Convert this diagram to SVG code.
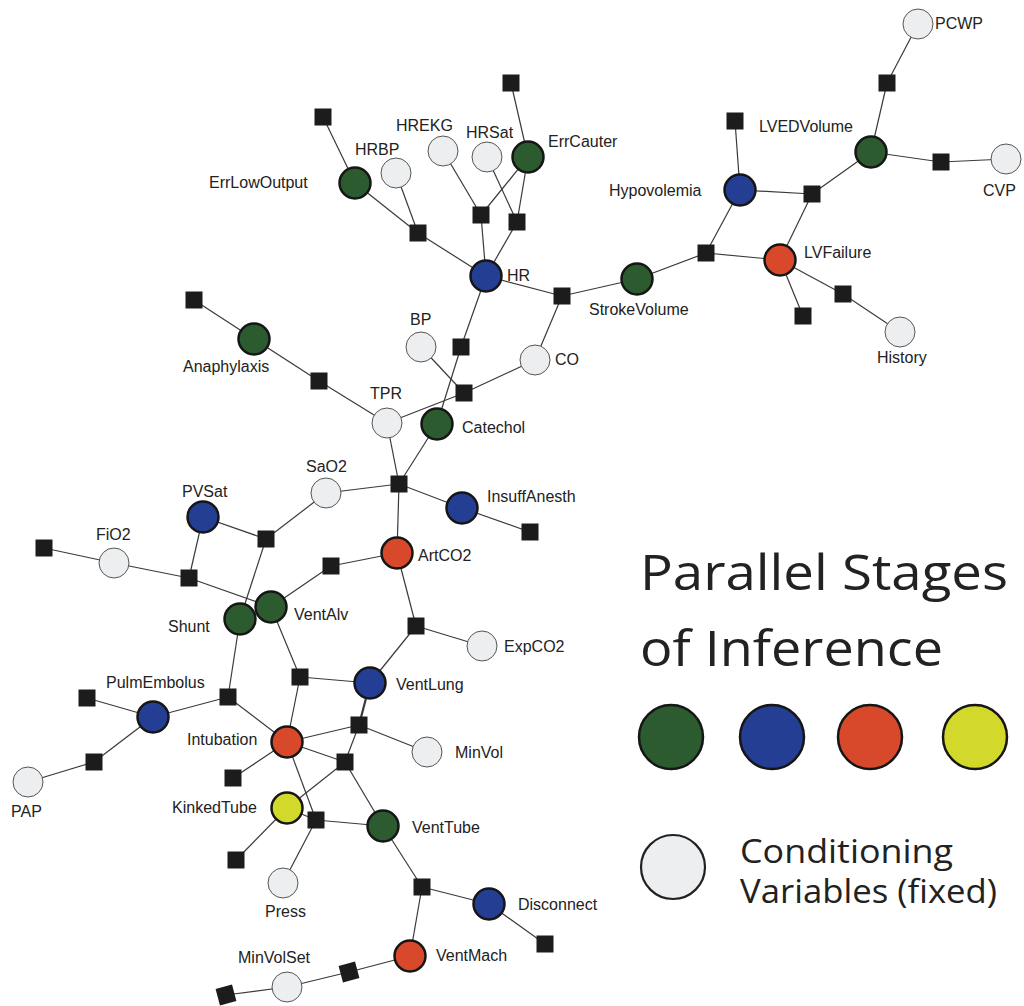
<svg xmlns="http://www.w3.org/2000/svg" width="1024" height="1006" viewBox="0 0 1024 1006">
<style>
.e{stroke:#3a3a3a;stroke-width:1.2;fill:none}
.f{fill:#1c1c1c}
.g{fill:#2b5b2f;stroke:#161616;stroke-width:2.5}
.b{fill:#243e93;stroke:#161616;stroke-width:2.5}
.r{fill:#d8482a;stroke:#161616;stroke-width:2.5}
.y{fill:#d3d92a;stroke:#161616;stroke-width:2.5}
.w{fill:#eceeef;stroke:#555;stroke-width:1}
.t{font-family:"Liberation Sans",Arial,sans-serif;font-size:16px;fill:#222}
.L{font-family:"Open Sans","Noto Sans",sans-serif;fill:#222}
</style>
<rect width="1024" height="1006" fill="#fff"/>
<g id="connectors" class="e">
<line x1="323" y1="117" x2="355" y2="183"/>
<line x1="418" y1="233" x2="355" y2="183"/>
<line x1="418" y1="233" x2="396" y2="173"/>
<line x1="418" y1="233" x2="486" y2="276"/>
<line x1="481" y1="215" x2="443" y2="151"/>
<line x1="481" y1="215" x2="528" y2="157"/>
<line x1="481" y1="215" x2="486" y2="276"/>
<line x1="517" y1="222" x2="487" y2="157"/>
<line x1="517" y1="222" x2="528" y2="157"/>
<line x1="517" y1="222" x2="486" y2="276"/>
<line x1="511" y1="83" x2="528" y2="157"/>
<line x1="562" y1="296" x2="486" y2="276"/>
<line x1="562" y1="296" x2="637" y2="279"/>
<line x1="562" y1="296" x2="535" y2="360"/>
<line x1="461" y1="347" x2="486" y2="276"/>
<line x1="461" y1="347" x2="437" y2="424"/>
<line x1="464" y1="393" x2="421" y2="347"/>
<line x1="464" y1="393" x2="535" y2="360"/>
<line x1="464" y1="393" x2="387" y2="423"/>
<line x1="194" y1="300" x2="254" y2="339"/>
<line x1="319" y1="381" x2="254" y2="339"/>
<line x1="319" y1="381" x2="387" y2="423"/>
<line x1="706" y1="253" x2="637" y2="279"/>
<line x1="706" y1="253" x2="740" y2="190"/>
<line x1="706" y1="253" x2="780" y2="260"/>
<line x1="735" y1="121" x2="740" y2="190"/>
<line x1="812" y1="194" x2="740" y2="190"/>
<line x1="812" y1="194" x2="780" y2="260"/>
<line x1="812" y1="194" x2="871" y2="152"/>
<line x1="887" y1="83" x2="871" y2="152"/>
<line x1="887" y1="83" x2="918" y2="24"/>
<line x1="941" y1="162" x2="871" y2="152"/>
<line x1="941" y1="162" x2="1006" y2="159"/>
<line x1="803" y1="316" x2="780" y2="260"/>
<line x1="843" y1="294" x2="780" y2="260"/>
<line x1="843" y1="294" x2="900" y2="332"/>
<line x1="399" y1="484" x2="387" y2="423"/>
<line x1="399" y1="484" x2="437" y2="424"/>
<line x1="399" y1="484" x2="326" y2="493"/>
<line x1="399" y1="484" x2="462" y2="508"/>
<line x1="399" y1="484" x2="397" y2="553"/>
<line x1="530" y1="532" x2="462" y2="508"/>
<line x1="266" y1="539" x2="203" y2="517"/>
<line x1="266" y1="539" x2="326" y2="493"/>
<line x1="266" y1="539" x2="240" y2="619"/>
<line x1="44" y1="548" x2="114" y2="563"/>
<line x1="189" y1="578" x2="114" y2="563"/>
<line x1="189" y1="578" x2="203" y2="517"/>
<line x1="189" y1="578" x2="271" y2="607"/>
<line x1="331" y1="566" x2="271" y2="607"/>
<line x1="331" y1="566" x2="397" y2="553"/>
<line x1="416" y1="626" x2="397" y2="553"/>
<line x1="416" y1="626" x2="482" y2="646"/>
<line x1="416" y1="626" x2="370" y2="683"/>
<line x1="300" y1="677" x2="271" y2="607"/>
<line x1="300" y1="677" x2="370" y2="683"/>
<line x1="300" y1="677" x2="287" y2="742"/>
<line x1="228" y1="697" x2="240" y2="619"/>
<line x1="228" y1="697" x2="153" y2="717"/>
<line x1="228" y1="697" x2="287" y2="742"/>
<line x1="87" y1="698" x2="153" y2="717"/>
<line x1="94" y1="762" x2="153" y2="717"/>
<line x1="94" y1="762" x2="28" y2="782"/>
<line x1="359" y1="725" x2="370" y2="683" stroke-width="2.2"/>
<line x1="359" y1="725" x2="287" y2="742"/>
<line x1="359" y1="725" x2="427" y2="752"/>
<line x1="345" y1="762" x2="359" y2="725"/>
<line x1="345" y1="762" x2="287" y2="742"/>
<line x1="345" y1="762" x2="287" y2="808"/>
<line x1="345" y1="762" x2="383" y2="826"/>
<line x1="233" y1="778" x2="287" y2="742"/>
<line x1="316" y1="820" x2="287" y2="742"/>
<line x1="316" y1="820" x2="287" y2="808"/>
<line x1="316" y1="820" x2="383" y2="826"/>
<line x1="316" y1="820" x2="283" y2="883"/>
<line x1="236" y1="860" x2="287" y2="808"/>
<line x1="422" y1="887" x2="383" y2="826"/>
<line x1="422" y1="887" x2="410" y2="956"/>
<line x1="422" y1="887" x2="489" y2="904"/>
<line x1="545" y1="944" x2="489" y2="904"/>
<line x1="349" y1="972" x2="410" y2="956"/>
<line x1="349" y1="972" x2="287" y2="987"/>
<line x1="226" y1="995" x2="287" y2="987"/>
</g>
<g id="factors" class="f">
<rect x="314.5" y="108.5" width="17" height="17"/>
<rect x="409.5" y="224.5" width="17" height="17"/>
<rect x="472.5" y="206.5" width="17" height="17"/>
<rect x="508.5" y="213.5" width="17" height="17"/>
<rect x="502.5" y="74.5" width="17" height="17"/>
<rect x="553.5" y="287.5" width="17" height="17"/>
<rect x="452.5" y="338.5" width="17" height="17"/>
<rect x="455.5" y="384.5" width="17" height="17"/>
<rect x="185.5" y="291.5" width="17" height="17"/>
<rect x="310.5" y="372.5" width="17" height="17"/>
<rect x="697.5" y="244.5" width="17" height="17"/>
<rect x="726.5" y="112.5" width="17" height="17"/>
<rect x="803.5" y="185.5" width="17" height="17"/>
<rect x="878.5" y="74.5" width="17" height="17"/>
<rect x="932.5" y="153.5" width="17" height="17"/>
<rect x="794.5" y="307.5" width="17" height="17"/>
<rect x="834.5" y="285.5" width="17" height="17"/>
<rect x="390.5" y="475.5" width="17" height="17"/>
<rect x="521.5" y="523.5" width="17" height="17"/>
<rect x="257.5" y="530.5" width="17" height="17"/>
<rect x="35.5" y="539.5" width="17" height="17"/>
<rect x="180.5" y="569.5" width="17" height="17"/>
<rect x="322.5" y="557.5" width="17" height="17"/>
<rect x="407.5" y="617.5" width="17" height="17"/>
<rect x="291.5" y="668.5" width="17" height="17"/>
<rect x="219.5" y="688.5" width="17" height="17"/>
<rect x="78.5" y="689.5" width="17" height="17"/>
<rect x="85.5" y="753.5" width="17" height="17"/>
<rect x="350.5" y="716.5" width="17" height="17"/>
<rect x="336.5" y="753.5" width="17" height="17"/>
<rect x="224.5" y="769.5" width="17" height="17"/>
<rect x="307.5" y="811.5" width="17" height="17"/>
<rect x="227.5" y="851.5" width="17" height="17"/>
<rect x="413.5" y="878.5" width="17" height="17"/>
<rect x="536.5" y="935.5" width="17" height="17"/>
<rect x="340.5" y="963.5" width="17" height="17" transform="rotate(-15 349 972)"/>
<rect x="217.5" y="986.5" width="17" height="17" transform="rotate(-15 226 995)"/>
</g>
<g id="nodes">
<g id="ErrLowOutput"><circle class="g" cx="355" cy="183" r="15.5"/><text class="t" x="209" y="188">ErrLowOutput</text></g>
<g id="HRBP"><circle class="w" cx="396" cy="173" r="15"/><text class="t" x="355" y="155">HRBP</text></g>
<g id="HREKG"><circle class="w" cx="443" cy="151" r="15"/><text class="t" x="396" y="131">HREKG</text></g>
<g id="HRSat"><circle class="w" cx="487" cy="157" r="15"/><text class="t" x="466" y="138">HRSat</text></g>
<g id="ErrCauter"><circle class="g" cx="528" cy="157" r="15.5"/><text class="t" x="548" y="147">ErrCauter</text></g>
<g id="HR"><circle class="b" cx="486" cy="276" r="15.5"/><text class="t" x="507" y="281">HR</text></g>
<g id="PCWP"><circle class="w" cx="918" cy="24" r="15"/><text class="t" x="935" y="29">PCWP</text></g>
<g id="LVEDVolume"><circle class="g" cx="871" cy="152" r="15.5"/><text class="t" x="759" y="132">LVEDVolume</text></g>
<g id="CVP"><circle class="w" cx="1006" cy="159" r="15"/><text class="t" x="983" y="196">CVP</text></g>
<g id="Hypovolemia"><circle class="b" cx="740" cy="190" r="15.5"/><text class="t" x="609" y="196">Hypovolemia</text></g>
<g id="LVFailure"><circle class="r" cx="780" cy="260" r="15.5"/><text class="t" x="804" y="258">LVFailure</text></g>
<g id="History"><circle class="w" cx="900" cy="332" r="15"/><text class="t" x="877" y="363">History</text></g>
<g id="StrokeVolume"><circle class="g" cx="637" cy="279" r="15.5"/><text class="t" x="589" y="315">StrokeVolume</text></g>
<g id="CO"><circle class="w" cx="535" cy="360" r="15"/><text class="t" x="555" y="365">CO</text></g>
<g id="BP"><circle class="w" cx="421" cy="347" r="15"/><text class="t" x="410" y="325">BP</text></g>
<g id="Anaphylaxis"><circle class="g" cx="254" cy="339" r="15.5"/><text class="t" x="183" y="372">Anaphylaxis</text></g>
<g id="TPR"><circle class="w" cx="387" cy="423" r="15"/><text class="t" x="370" y="399">TPR</text></g>
<g id="Catechol"><circle class="g" cx="437" cy="424" r="15.5"/><text class="t" x="462" y="433">Catechol</text></g>
<g id="SaO2"><circle class="w" cx="326" cy="493" r="15"/><text class="t" x="306" y="472">SaO2</text></g>
<g id="InsuffAnesth"><circle class="b" cx="462" cy="508" r="15.5"/><text class="t" x="487" y="502">InsuffAnesth</text></g>
<g id="PVSat"><circle class="b" cx="203" cy="517" r="15.5"/><text class="t" x="182" y="497">PVSat</text></g>
<g id="FiO2"><circle class="w" cx="114" cy="563" r="15"/><text class="t" x="96" y="540">FiO2</text></g>
<g id="ArtCO2"><circle class="r" cx="397" cy="553" r="15.5"/><text class="t" x="418" y="561">ArtCO2</text></g>
<g id="Shunt"><circle class="g" cx="240" cy="619" r="15.5"/><text class="t" x="168" y="632">Shunt</text></g>
<g id="VentAlv"><circle class="g" cx="271" cy="607" r="15.5"/><text class="t" x="294" y="620">VentAlv</text></g>
<g id="ExpCO2"><circle class="w" cx="482" cy="646" r="15"/><text class="t" x="504" y="652">ExpCO2</text></g>
<g id="VentLung"><circle class="b" cx="370" cy="683" r="15.5"/><text class="t" x="396" y="690">VentLung</text></g>
<g id="PulmEmbolus"><circle class="b" cx="153" cy="717" r="15.5"/><text class="t" x="106" y="688">PulmEmbolus</text></g>
<g id="PAP"><circle class="w" cx="28" cy="782" r="15"/><text class="t" x="11" y="817">PAP</text></g>
<g id="Intubation"><circle class="r" cx="287" cy="742" r="15.5"/><text class="t" x="187" y="745">Intubation</text></g>
<g id="MinVol"><circle class="w" cx="427" cy="752" r="15"/><text class="t" x="455" y="758">MinVol</text></g>
<g id="KinkedTube"><circle class="y" cx="287" cy="808" r="15.5"/><text class="t" x="172" y="813">KinkedTube</text></g>
<g id="VentTube"><circle class="g" cx="383" cy="826" r="15.5"/><text class="t" x="412" y="833">VentTube</text></g>
<g id="Press"><circle class="w" cx="283" cy="883" r="15"/><text class="t" x="265" y="917">Press</text></g>
<g id="Disconnect"><circle class="b" cx="489" cy="904" r="15.5"/><text class="t" x="518" y="910">Disconnect</text></g>
<g id="VentMach"><circle class="r" cx="410" cy="956" r="15.5"/><text class="t" x="436" y="961">VentMach</text></g>
<g id="MinVolSet"><circle class="w" cx="287" cy="987" r="15"/><text class="t" x="238" y="963">MinVolSet</text></g>
</g>
<g id="legend">
<text class="L" x="640" y="590" font-size="49" textLength="368" lengthAdjust="spacingAndGlyphs">Parallel Stages</text>
<text class="L" x="640" y="666" font-size="49" textLength="303" lengthAdjust="spacingAndGlyphs">of Inference</text>
<circle class="g" cx="671" cy="737" r="32"/>
<circle class="b" cx="772" cy="737" r="32"/>
<circle class="r" cx="870" cy="737" r="32"/>
<circle class="y" cx="975" cy="737" r="32"/>
<circle cx="673" cy="867" r="32" fill="#eceeef" stroke="#222" stroke-width="2.2"/>
<text class="L" x="740" y="863" font-size="32" textLength="213" lengthAdjust="spacingAndGlyphs">Conditioning</text>
<text class="L" x="740" y="903" font-size="32" textLength="257" lengthAdjust="spacingAndGlyphs">Variables (fixed)</text>
</g>
</svg>
